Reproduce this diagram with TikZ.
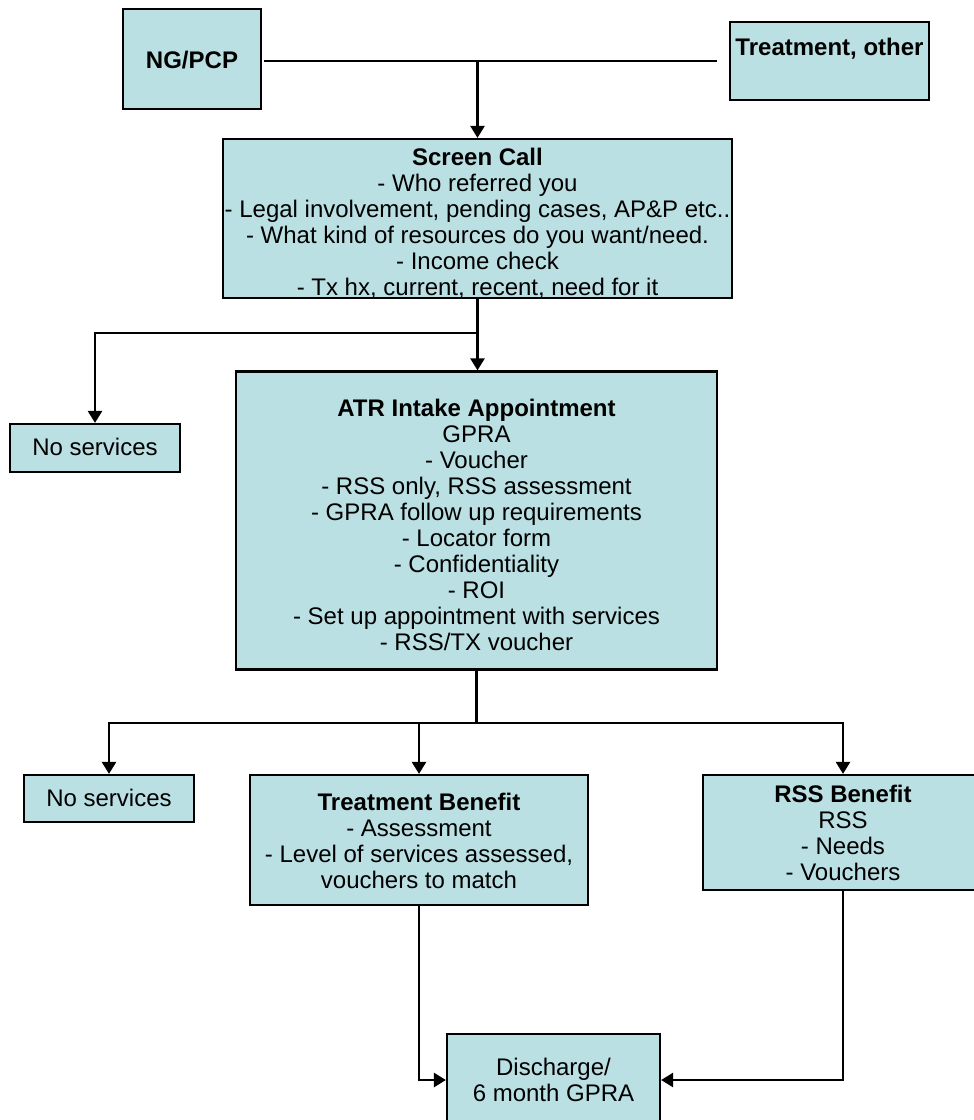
\documentclass[tikz,border=0pt]{standalone}
\usepackage{fontspec}
\setmainfont{Liberation Sans}
\usetikzlibrary{arrows.meta}
\definecolor{boxfill}{RGB}{186,224,227}
\begin{document}
\begin{tikzpicture}[x=1pt,y=-1pt,
  box/.style={draw=black, fill=boxfill, line width=2.2pt, inner sep=0pt},
  txt/.style={align=center, inner sep=0pt, font=\fontsize{24}{26}\selectfont},
  conn/.style={line width=2.5pt},
  arr/.style={conn, -{Triangle[width=14pt,length=12pt]}}]
\useasboundingbox (0,0) rectangle (974,1120);
% boxes
\node[box, minimum width=138pt, minimum height=100pt] (ng) at (192,59) {};
\node[box, minimum width=199pt, minimum height=78pt] (treat) at (829.5,61) {};
\node[box, minimum width=509pt, minimum height=159pt] (screen) at (477.5,218.5) {};
\node[box, minimum width=170pt, minimum height=48pt] (nos1) at (95,448) {};
\node[box, minimum width=481pt, minimum height=298pt] (atr) at (476.5,520.5) {};
\node[box, minimum width=170pt, minimum height=47pt] (nos2) at (109,798.5) {};
\node[box, minimum width=338pt, minimum height=130pt] (tb) at (419,840) {};
\node[box, minimum width=280pt, minimum height=115pt] (rss) at (843,832.5) {};
\node[box, minimum width=213pt, minimum height=92pt] (dis) at (553.5,1080) {};
% texts
\node[txt] (ngt) at ([yshift=-1pt]ng.center) {\bfseries NG/PCP};
\node[txt] (treatt) at (829.5,48.5) {\bfseries Treatment, other};
\node[txt] (screent) at ([yshift=-4.5pt]screen.center) {\textbf{Screen Call}\\
- Who referred you\\
- Legal involvement, pending cases, AP\&P etc..\\
- What kind of resources do you want/need.\\
- Income check\\
- Tx hx, current, recent, need for it};
\node[txt] (nos1t) at (95,446.5) {No services};
\node[txt] (atrt) at ([yshift=-4.5pt]atr.center) {\textbf{ATR Intake Appointment}\\
GPRA\\
- Voucher\\
- RSS only, RSS assessment\\
- GPRA follow up requirements\\
- Locator form\\
- Confidentiality\\
- ROI\\
- Set up appointment with services\\
- RSS/TX voucher};
\node[txt] (nos2t) at (109,797.5) {No services};
\node[txt] (tbt) at ([yshift=-1pt]tb.center) {\textbf{Treatment Benefit}\\
- Assessment\\
- Level of services assessed,\\
vouchers to match};
\node[txt] (rsst) at (rss.center) {\textbf{RSS Benefit}\\
RSS\\
- Needs\\
- Vouchers};
\node[txt] (dist) at (dis.center) {Discharge/\\6 month GPRA};
% connectors
\coordinate (tend) at (717,61);
\coordinate (j1) at (screen.north |- tend);
\coordinate (b1) at (0,333);
\coordinate (b2) at (0,723);
\coordinate (j2) at (screen.south |- b1);
\coordinate (j3) at (atr.south |- b2);
\draw[conn] ([xshift=2pt,yshift=-2pt]ng.east) -- (tend);
\draw[arr] (j1) -- (screen.north);
\draw[arr] (screen.south) -- (screen.south |- atr.north);
\draw[arr] (j2) -| (nos1.north);
\draw[conn] (atr.south) -- (j3);
\draw[arr] (j3) -| (nos2.north);
\draw[arr] (j3) -| (tb.north);
\draw[arr] (j3) -| (rss.north);
\draw[arr] (tb.south) |- (dis.west);
\draw[arr] (rss.south) |- (dis.east);
\end{tikzpicture}
\end{document}
